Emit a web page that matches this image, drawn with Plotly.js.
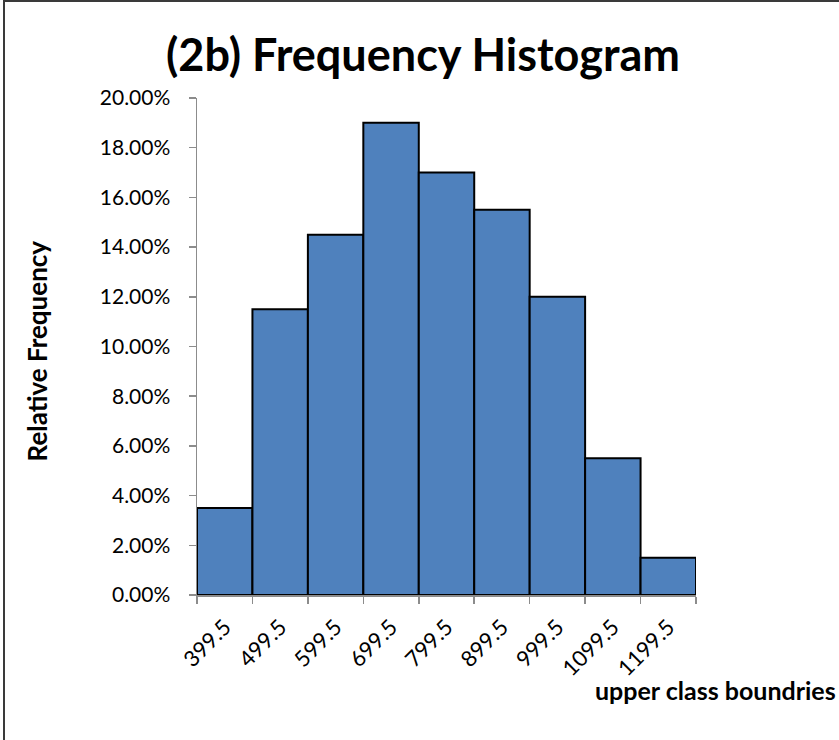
<!DOCTYPE html>
<html>
<head>
<meta charset="utf-8">
<script src="https://cdn.plot.ly/plotly-3.0.1.min.js"></script>
<style>
  html, body { margin: 0; padding: 0; background: #fff; }
  #wrap { position: relative; width: 839px; height: 740px; overflow: hidden; }
  #frame { position: absolute; left: 3px; top: 0px; width: 900px; height: 800px;
           border-left: 2px solid #3a3a3a; border-top: 2px solid #3a3a3a; pointer-events: none; z-index: 5; }
  #chart { width: 839px; height: 740px; }
</style>
</head>
<body>
<div id="wrap">
  <div id="chart"></div>
  <div id="frame"></div>
</div>
<script>
const categories = ["399.5", "499.5", "599.5", "699.5", "799.5", "899.5", "999.5", "1099.5", "1199.5"];
const relFreq = [0.035, 0.115, 0.145, 0.19, 0.17, 0.155, 0.12, 0.055, 0.015];
const yTicks = [0, 0.02, 0.04, 0.06, 0.08, 0.10, 0.12, 0.14, 0.16, 0.18, 0.20];
const chartTitle = "(2b) Frequency Histogram";
const yTitle = "Relative Frequency";
const xTitle = "upper class boundries";

const FONT = "Lato, 'Open Sans', sans-serif";
const L = 197, R = 143, T = 98, B = 145, W = 839, H = 740;
const pw = W - L - R;

const trace = {
  type: "bar",
  x: categories,
  y: relFreq,
  marker: { color: "#4F81BD", line: { color: "#000000", width: 2 } },
  hoverinfo: "skip"
};

const layout = {
  width: W, height: H,
  margin: { l: L, r: R, t: T, b: B, pad: 0 },
  paper_bgcolor: "#ffffff",
  plot_bgcolor: "#ffffff",
  bargap: 0,
  showlegend: false,
  font: { family: FONT, color: "#000" },
  title: {
    text: "<b>" + chartTitle + "</b>",
    font: { family: FONT, size: 45, color: "#000" },
    xref: "container", yref: "container",
    x: 423 / W, y: 1 - 55 / H, xanchor: "center", yanchor: "middle"
  },
  xaxis: {
    type: "category",
    tickangle: -45,
    ticks: "outside", ticklen: 7, tickcolor: "#8c8c8c", tickwidth: 1.5,
    tickson: "boundaries",
    showline: true, linecolor: "#8c8c8c", linewidth: 1.5,
    showgrid: false, zeroline: false,
    ticklabelstandoff: 9,
    tickfont: { family: FONT, size: 22, color: "#000" },
    fixedrange: true
  },
  yaxis: {
    range: [0, 0.2],
    tickvals: yTicks,
    tickformat: ".2%",
    ticks: "outside", ticklen: 7, tickcolor: "#8c8c8c", tickwidth: 1.5,
    showline: true, linecolor: "#8c8c8c", linewidth: 1.5,
    showgrid: false, zeroline: false,
    ticklabelstandoff: 14,
    tickfont: { family: FONT, size: 21, color: "#000" },
    fixedrange: true
  },
  annotations: [
    {
      text: "<b>" + yTitle + "</b>",
      xref: "paper", yref: "paper",
      x: (37 - L) / pw, y: 0.49,
      xanchor: "center", yanchor: "middle",
      textangle: -90, showarrow: false,
      font: { family: FONT, size: 26, color: "#000" }
    },
    {
      text: "<b>" + xTitle + "</b>",
      xref: "paper", yref: "paper",
      x: (838 - L) / pw, y: -(690 - 595) / (H - T - B),
      xanchor: "right", yanchor: "middle",
      showarrow: false,
      font: { family: FONT, size: 25, color: "#000" }
    }
  ]
};

Plotly.newPlot("chart", [trace], layout, { staticPlot: true, displayModeBar: false });
</script>
</body>
</html>
